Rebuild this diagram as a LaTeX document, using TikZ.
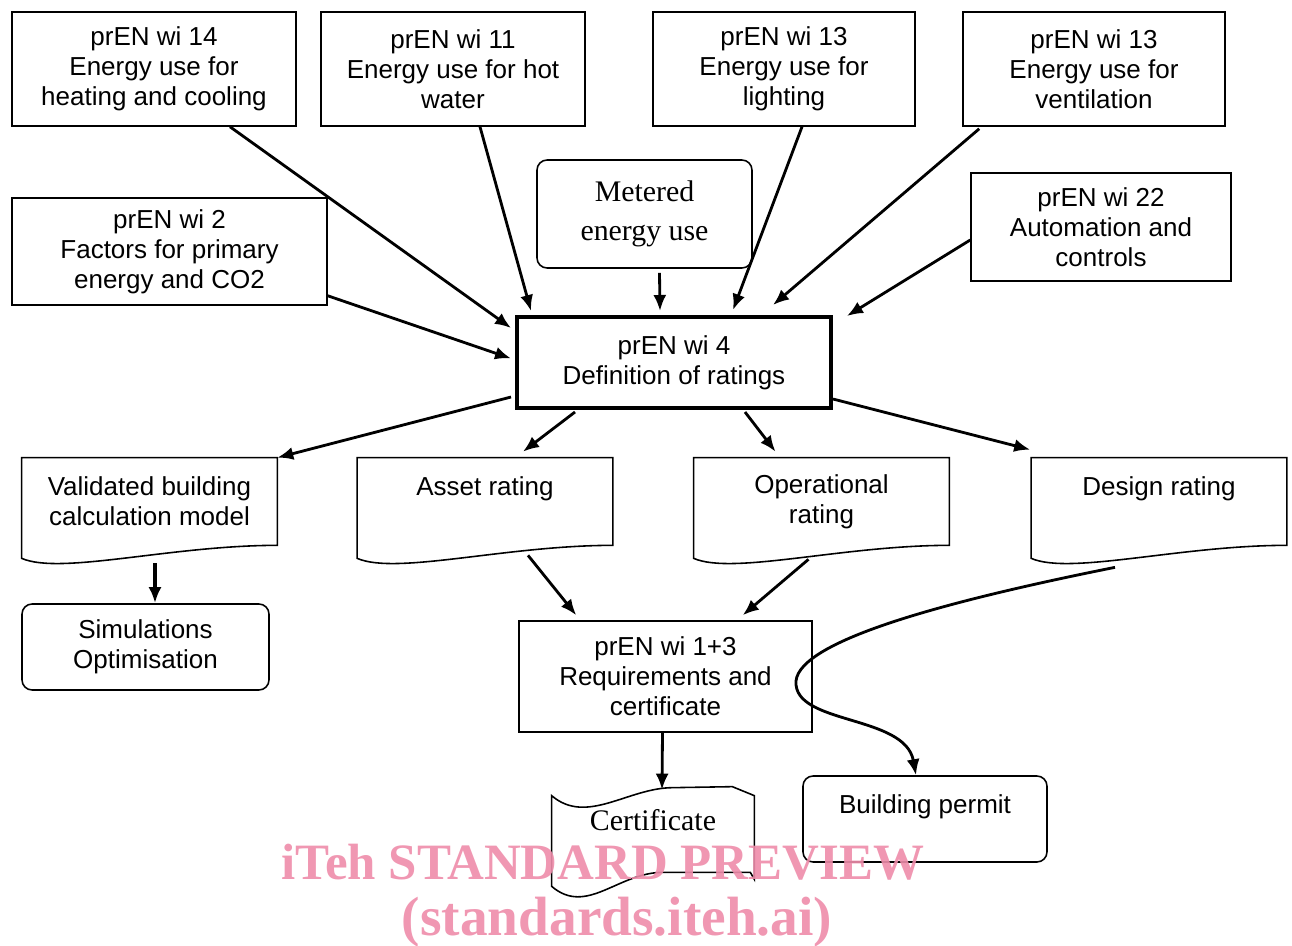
\documentclass[tikz,border=0pt]{standalone}
\usepackage{fontspec}
\setmainfont{Liberation Sans}
\newfontfamily\serifface{Liberation Serif}
\usetikzlibrary{arrows.meta,calc}
\definecolor{cMark}{RGB}{238,140,170}

\begin{document}
\begin{tikzpicture}[
  x=0.02cm, y=-0.02cm,
  src/.style={draw,line width=0.9pt,minimum height=22.8mm,align=center,
              font=\fontsize{14.8}{17}\selectfont},
  rnd/.style={src,rounded corners=2mm},
  meas/.style={rnd,minimum width=43mm,minimum height=21.6mm,
               font=\serifface\fontsize{17}{22}\selectfont},
  doc/.style={align=center,minimum width=51mm,minimum height=17.4mm,
              font=\fontsize{14.8}{17}\selectfont},
  outline/.style={line width=0.9pt},
  flow/.style={-{Latex[length=3.2mm,width=2.6mm]},line width=1.6pt},
  wmark/.style={inner sep=0pt,text=cMark,
               font=\serifface\fontsize{29}{34}\selectfont\bfseries},
]
\useasboundingbox (0,0) rectangle (1292,946);
% standards feeding the ratings, top row
\node[src,minimum width=56.8mm] (wi14) at (154,69) {prEN wi 14\\Energy use for\\heating and cooling};
\node[src,minimum width=52.8mm] (wi11) at (453,69) {prEN wi 11\\Energy use for hot\\water};
\node[src,minimum width=52.4mm] (wi13l) at (784,69) {prEN wi 13\\Energy use for\\lighting};
\node[src,minimum width=52.4mm] (wi13v) at (1094,69) {prEN wi 13\\Energy use for\\ventilation};
% second row
\node[src,minimum width=63mm,minimum height=21.4mm] (wi2) at (169.5,251.5) {prEN wi 2\\Factors for primary\\energy and CO2};
\node[meas] (meter) at (644.5,214) {Metered\\energy use};
\node[src,minimum width=52mm,minimum height=21.6mm] (wi22) at (1101,227) {prEN wi 22\\Automation and\\controls};
% definition of ratings
\node[src,line width=2.3pt,minimum width=62.8mm,minimum height=18.2mm] (wi4) at (674,362.5) {prEN wi 4\\Definition of ratings};
% the ratings, as documents
\node[doc] (valid) at (149.5,501.5) {Validated building\\calculation model};
\node[doc] (asset) at (485,501.5) {Asset rating\\~};
\node[doc] (oper) at (821.5,501.5) {Operational\\rating};
\node[doc] (design) at (1159,501.5) {Design rating\\~};
\foreach \d in {valid,asset,oper,design}
  \draw[outline] (\d.north west) -- (\d.north east) -- (\d.south east)
    .. controls +(-107,0) and +(39,17) .. ($(\d.south west)+(0,13)$) -- cycle;
% results
\node[rnd,minimum width=49.4mm,minimum height=17.2mm] (sim) at (145.5,647) {Simulations\\Optimisation};
\node[src,minimum width=58.6mm,minimum height=22.2mm] (wi13) at (665.5,676.5) {prEN wi 1+3\\Requirements and\\certificate};
\node[doc,minimum width=40.4mm,minimum height=16.6mm,
      font=\serifface\fontsize{17}{20}\selectfont] (cert) at (653,837.5) {Certificate\\~};
\draw[outline] (cert.north west) .. controls +(35,30) and +(-45,0) .. ($(cert.north)+(20,-8)$)
  -- ($(cert.north east)+(-22,-9)$) -- (cert.north east) -- (cert.south east)
  -- ($(cert.south east)+(-4,-7)$) -- ($(cert.south)+(10,-7)$)
  .. controls +(-45,0) and +(35,30) .. ($(cert.south west)+(0,7)$) -- cycle;
\node[rnd,minimum width=48.8mm,minimum height=17.2mm] (permit) at (925,819) {Building permit\\~};
% inputs to the definition
\draw[flow] ($(wi14.south)+(76,0)$) -- ($(wi4.north west)+(-4,13)$);
\draw[flow] ($(wi11.south)+(27,0)$) -- ($(wi4.north west)+(16,-4)$);
\draw[flow] ($(wi2.south east)+(0,-10)$) -- ($(wi4.west)+(-4,-4)$);
\draw[flow] ($(meter.south)+(15,4)$) -- ($(wi4.north)+(-14,-4)$);
\draw[flow] ($(wi13l.south)+(18,0)$) -- ($(wi4.north)+(59,-5)$);
\draw[flow] ($(wi13v.south west)+(17,2)$) -- ($(wi4.north)+(99,-10)$);
\draw[flow] ($(wi22.west)+(0,13)$) -- ($(wi4.north east)+(14,1)$);
% outputs of the definition
\draw[flow] ($(wi4.south west)+(-4,-13)$) -- (valid.north east);
\draw[flow] ($(wi4.south west)+(60,2)$) -- ($(asset.north)+(38,-6)$);
\draw[flow] ($(wi4.south)+(71,2)$) -- ($(oper.north)+(-46,-6)$);
\draw[flow] ($(wi4.south east)+(0,-11)$) -- ($(design.north west)+(-1,-8)$);
% from the ratings on
\draw[flow,line width=2.2pt] ($(valid.south)+(5.5,18)$) -- ($(sim.north)+(9.5,0)$);
\draw[flow] ($(asset.south)+(43,10)$) -- ($(wi13.north west)+(58,-5)$);
\draw[flow] ($(oper.south)+(-13,14)$) -- ($(wi13.north east)+(-70,-5)$);
\draw[flow] ($(wi13.south)+(-3,0)$) -- ($(cert.north)+(9,-6)$);
\coordinate (bend) at (796,681);
\draw[flow] ($(design.south)+(-44,22)$) .. controls +(-165,33) and +(4,-41) .. (bend)
  .. controls +(-3,44) and +(-11,-61) .. ($(permit.north)+(-9,0)$);
% watermark
\node[wmark,opacity=0.9] (wm1) at (603,862) {iTeh STANDARD PREVIEW};
\node[wmark,opacity=0.9,font=\serifface\fontsize{31.5}{36}\selectfont\bfseries] (wm2) at (617,922) {(standards.iteh.ai)};
\end{tikzpicture}
\end{document}
